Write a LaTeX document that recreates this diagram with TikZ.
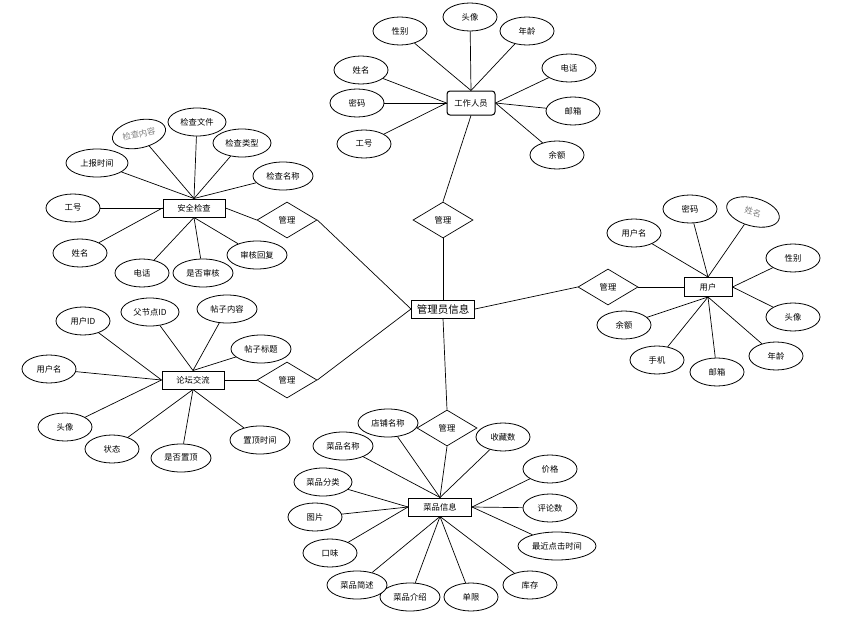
\documentclass[tikz,border=0pt]{standalone}
\usepackage{fontspec}
\setmainfont{Noto Sans CJK SC}
\usepackage{xcolor}
\usepackage{tikz}
\usetikzlibrary{positioning,shapes.geometric}
\tikzset{
  ent/.style={draw=black, line width=1pt, fill=white, align=center, minimum width=62pt, minimum height=18pt, inner sep=2pt, font=\fontsize{8.3}{10}\selectfont},
  attr/.style={ellipse, draw=black, line width=0.8pt, fill=white, minimum width=54pt, minimum height=28pt, inner sep=1pt, font=\fontsize{8.3}{10}\selectfont},
  rel/.style={diamond, draw=black, line width=0.7pt, fill=white, aspect=1.7, minimum width=60pt, minimum height=36pt, inner sep=0pt, font=\fontsize{8.3}{10}\selectfont},
  link/.style={draw=black, line width=0.7pt},
}

\begin{document}
\begin{tikzpicture}[x=1pt,y=-1pt]
  \useasboundingbox (0,0) rectangle (852,624);

  % central entity
  \node[ent, minimum width=63pt, font=\fontsize{10.5}{12}\selectfont] (admin) at (443,309) {管理员信息};

  % relationships
  \node[rel] (r_staff) at (443,220) {管理};
  \node[rel] (r_check) at (287,220) {管理};
  \node[rel] (r_forum) at (287,380) {管理};
  \node[rel] (r_user)  at (608,287) {管理};
  \node[rel] (r_dish)  at (447,428) {管理};

  % 工作人员
  \node[ent, rounded corners=3pt, minimum width=48pt, minimum height=24pt] (staff) at (471,103) {工作人员};
  \node[attr] (s_avatar) at (470,17)  {头像};
  \node[attr] (s_sex)    at (400,31)  {性别};
  \node[attr] (s_age)    at (527,31)  {年龄};
  \node[attr] (s_name)   at (361,70)  {姓名};
  \node[attr] (s_tel)    at (569,68)  {电话};
  \node[attr] (s_pwd)    at (357,103) {密码};
  \node[attr] (s_mail)   at (573,111) {邮箱};
  \node[attr] (s_no)     at (364,144) {工号};
  \node[attr] (s_bal)    at (557,155) {余额};
  \draw[link] (s_avatar) -- (staff.north);
  \draw[link] (s_sex) -- (staff.north);
  \draw[link] (s_age) -- (staff.north);
  \draw[link] (s_name) -- (staff.west);
  \draw[link] (s_pwd) -- (staff.west);
  \draw[link] (s_no) -- (staff.west);
  \draw[link] (s_tel) -- (staff.east);
  \draw[link] (s_mail) -- (staff.east);
  \draw[link] (s_bal) -- (staff.east);

  % 安全检查
  \node[ent] (check) at (194,208) {安全检查};
  \node[attr, rotate=12, text=gray] (c_content) at (139,134) {检查内容};
  \node[attr, minimum width=58pt] (c_file)   at (197,122) {检查文件};
  \node[attr, minimum width=58pt] (c_type)   at (242,143) {检查类型};
  \node[attr, minimum width=60pt] (c_title)  at (283,176) {检查名称};
  \node[attr, minimum width=62pt] (c_time)   at (97,163)  {上报时间};
  \node[attr] (c_no)     at (73,208)  {工号};
  \node[attr] (c_name)   at (80,253)  {姓名};
  \node[attr] (c_tel)    at (142,273) {电话};
  \node[attr, minimum width=60pt] (c_audit)  at (203,273) {是否审核};
  \node[attr, minimum width=60pt] (c_reply)  at (257,255) {审核回复};
  \draw[link] (c_content) -- (check.north);
  \draw[link] (c_file) -- (check.north);
  \draw[link] (c_type) -- (check.north);
  \draw[link] (c_title) -- (check.north);
  \draw[link] (c_time) -- (check.north);
  \draw[link] (c_no) -- (check.west);
  \draw[link] (c_name) -- (check.west);
  \draw[link] (c_tel) -- (check.south);
  \draw[link] (c_audit) -- (check.south);
  \draw[link] (c_reply) -- (check.south);

  % 论坛交流
  \node[ent] (forum) at (193,380) {论坛交流};
  \node[attr] (f_uid)    at (83,321)  {用户ID};
  \node[attr, minimum width=58pt] (f_pid)    at (150,312) {父节点ID};
  \node[attr, minimum width=60pt] (f_body)   at (227,309) {帖子内容};
  \node[attr, minimum width=60pt] (f_title)  at (261,349) {帖子标题};
  \node[attr] (f_uname)  at (49,369)  {用户名};
  \node[attr] (f_avatar) at (65,427)  {头像};
  \node[attr] (f_state)  at (112,449) {状态};
  \node[attr, minimum width=60pt] (f_top)    at (181,458) {是否置顶};
  \node[attr, minimum width=60pt] (f_toptime) at (260,440) {置顶时间};
  \draw[link] (f_uid) -- (forum.west);
  \draw[link] (f_uname) -- (forum.west);
  \draw[link] (f_avatar) -- (forum.west);
  \draw[link] (f_pid) -- (forum.north);
  \draw[link] (f_body) -- (forum.north);
  \draw[link] (f_title) -- (forum.north);
  \draw[link] (f_state) -- (forum.south);
  \draw[link] (f_top) -- (forum.south);
  \draw[link] (f_toptime) -- (forum.south);

  % 用户
  \node[ent, minimum width=48pt, minimum height=19pt] (user) at (708,287) {用户};
  \node[attr] (u_uname)  at (634,233) {用户名};
  \node[attr] (u_pwd)    at (690,209) {密码};
  \node[attr, rotate=-15, text=gray] (u_name) at (753,212) {姓名};
  \node[attr] (u_sex)    at (793,258) {性别};
  \node[attr] (u_avatar) at (793,317) {头像};
  \node[attr] (u_age)    at (776,356) {年龄};
  \node[attr] (u_mail)   at (717,372) {邮箱};
  \node[attr] (u_phone)  at (657,360) {手机};
  \node[attr] (u_bal)    at (624,325) {余额};
  \draw[link] (u_uname) -- (user.north);
  \draw[link] (u_pwd) -- (user.north);
  \draw[link] (u_name) -- (user.north);
  \draw[link] (u_sex) -- (user.east);
  \draw[link] (u_avatar) -- (user.east);
  \draw[link] (u_age) -- (user.south);
  \draw[link] (u_mail) -- (user.south);
  \draw[link] (u_phone) -- (user.south);
  \draw[link] (u_bal) -- (user.south);

  % 菜品信息
  \node[ent, minimum width=63pt] (dish) at (440,507) {菜品信息};
  \node[attr, minimum width=60pt] (d_shop)  at (388,423) {店铺名称};
  \node[attr, minimum width=60pt] (d_name)  at (343,446) {菜品名称};
  \node[attr] (d_fav)   at (503,437) {收藏数};
  \node[attr] (d_price) at (550,469) {价格};
  \node[attr] (d_cmt)   at (550,508) {评论数};
  \node[attr, minimum width=78pt] (d_click) at (557,546) {最近点击时间};
  \node[attr] (d_stock) at (530,585) {库存};
  \node[attr] (d_limit) at (471,597) {单限};
  \node[attr, minimum width=60pt] (d_intro) at (410,597) {菜品介绍};
  \node[attr, minimum width=60pt] (d_brief) at (357,585) {菜品简述};
  \node[attr] (d_taste) at (330,553) {口味};
  \node[attr] (d_pic)   at (315,517) {图片};
  \node[attr, minimum width=58pt] (d_cat)   at (323,482) {菜品分类};
  \draw[link] (d_shop) -- (dish.north);
  \draw[link] (d_name) -- (dish.north);
  \draw[link] (d_fav) -- (dish.north);
  \draw[link] (d_price) -- (dish.east);
  \draw[link] (d_cmt) -- (dish.east);
  \draw[link] (d_click) -- (dish.east);
  \draw[link] (d_cat) -- (dish.west);
  \draw[link] (d_pic) -- (dish.west);
  \draw[link] (d_taste) -- (dish.west);
  \draw[link] (d_brief) -- (dish.south);
  \draw[link] (d_intro) -- (dish.south);
  \draw[link] (d_limit) -- (dish.south);
  \draw[link] (d_stock) -- (dish.south);

  % relationships to entities
  \draw[link] (staff.south) -- (r_staff.north);
  \draw[link] (r_staff.south) -- (admin.north);
  \draw[link] (check.east) -- (r_check.west);
  \draw[link] (r_check.east) -- (admin.west);
  \draw[link] (forum.east) -- (r_forum.west);
  \draw[link] (r_forum.east) -- (admin.west);
  \draw[link] (admin.east) -- (r_user.west);
  \draw[link] (r_user.east) -- (user.west);
  \draw[link] (admin.south) -- (r_dish.north);
  \draw[link] (r_dish.south) -- (dish.north);
\end{tikzpicture}
\end{document}
